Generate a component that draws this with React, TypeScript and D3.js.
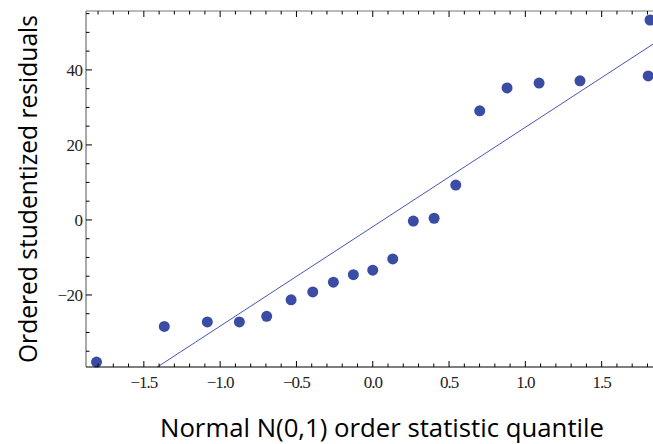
import React from "react";
import * as d3 from "d3";

const quantiles = [-1.81, -1.366, -1.084, -0.874, -0.695, -0.535, -0.393, -0.258, -0.127, 0.0, 0.131, 0.266, 0.402, 0.544, 0.701, 0.88, 1.09, 1.358, 1.805, 1.817];
const residuals = [-37.9, -28.4, -27.2, -27.2, -25.7, -21.3, -19.2, -16.6, -14.6, -13.4, -10.4, -0.3, 0.45, 9.3, 29.1, 35.2, 36.5, 37.1, 38.4, 53.3];
const fitIntercept = -1.8;
const fitSlope = 26.5;
const xMajorTicks = [-1.5, -1.0, -0.5, 0.0, 0.5, 1.0, 1.5];
const yMajorTicks = [-20, 0, 20, 40];
const xLabel = "Normal N(0,1) order statistic quantile";
const yLabel = "Ordered studentized residuals";

const W = 653, H = 444;
const L = 86, R = 659.5, T = 11, B = 367;

export default function App() {
  const x = d3.scaleLinear().domain([-1.879, 1.879]).range([L, R]);
  const y = d3.scaleLinear().domain([-39.2, 55.7]).range([B, T]);
  const xMinor = d3.range(-18, 19).map((i) => i / 10).filter((v) => !xMajorTicks.some((m) => Math.abs(m - v) < 1e-9));
  const yMinor = d3.range(-35, 56, 5).filter((v) => !yMajorTicks.includes(v));
  const fmt = (v: number) => (v < 0 ? "\u2212" + Math.abs(v).toFixed(1) : v.toFixed(1));
  const fmtY = (v: number) => (v < 0 ? "\u2212" + Math.abs(v) : String(v));
  const line = d3.line<number>().x((v) => x(v)).y((v) => y(fitIntercept + fitSlope * v));
  const pts = quantiles.map((q, i) => ({ q, r: residuals[i] }));
  return (
    <svg width={W} height={H} style={{ position: "absolute", left: 0, top: 0, background: "#fff" }}>
      <defs>
        <clipPath id="plot">
          <rect x={L} y={T} width={R - L} height={B - T} />
        </clipPath>
      </defs>
      <path d={line([-1.879, 1.879]) || ""} stroke="#4555b5" strokeWidth={1} fill="none" clipPath="url(#plot)" />
      {pts.map((p, i) => (
        <circle key={i} cx={x(p.q)} cy={y(p.r)} r={5.5} fill="#3a4ca3" />
      ))}
      {/* frame */}
      <line x1={L} x2={W} y1={T} y2={T} stroke="#777" strokeWidth={1} />
      <line x1={L} x2={L} y1={T} y2={B} stroke="#555" strokeWidth={1} />
      <line x1={L} x2={W} y1={B} y2={B} stroke="#000" strokeWidth={1} />
      {/* x ticks */}
      {xMajorTicks.map((v) => (
        <g key={"xm" + v}>
          <line x1={x(v)} x2={x(v)} y1={B} y2={B - 6} stroke="#000" />
          <line x1={x(v)} x2={x(v)} y1={T} y2={T + 6} stroke="#000" />
          <text x={x(v)} y={387.7} textAnchor="middle" fontFamily="Liberation Serif" fontSize={17} letterSpacing={-1} fill="#222">{fmt(v)}</text>
        </g>
      ))}
      {xMinor.map((v) => (
        <g key={"xn" + v}>
          <line x1={x(v)} x2={x(v)} y1={B} y2={B - 3.5} stroke="#000" />
          <line x1={x(v)} x2={x(v)} y1={T} y2={T + 3.5} stroke="#000" />
        </g>
      ))}
      {/* y ticks */}
      {yMajorTicks.map((v) => (
        <g key={"ym" + v}>
          <line x1={L} x2={L + 6} y1={y(v)} y2={y(v)} stroke="#000" />
          <text x={82.5} y={y(v) + 6} textAnchor="end" fontFamily="Liberation Serif" fontSize={17} letterSpacing={-0.5} fill="#222">{fmtY(v)}</text>
        </g>
      ))}
      {yMinor.map((v) => (
        <line key={"yn" + v} x1={L} x2={L + 3.5} y1={y(v)} y2={y(v)} stroke="#000" />
      ))}
      <text x={160} y={436.5} fontFamily="Open Sans" fontSize={25} fill="#000" textLength={444} lengthAdjust="spacingAndGlyphs">{xLabel}</text>
      <text transform="translate(37,363) rotate(-90)" fontFamily="Open Sans" fontSize={26} fill="#000" textLength={348} lengthAdjust="spacingAndGlyphs">{yLabel}</text>
    </svg>
  );
}
